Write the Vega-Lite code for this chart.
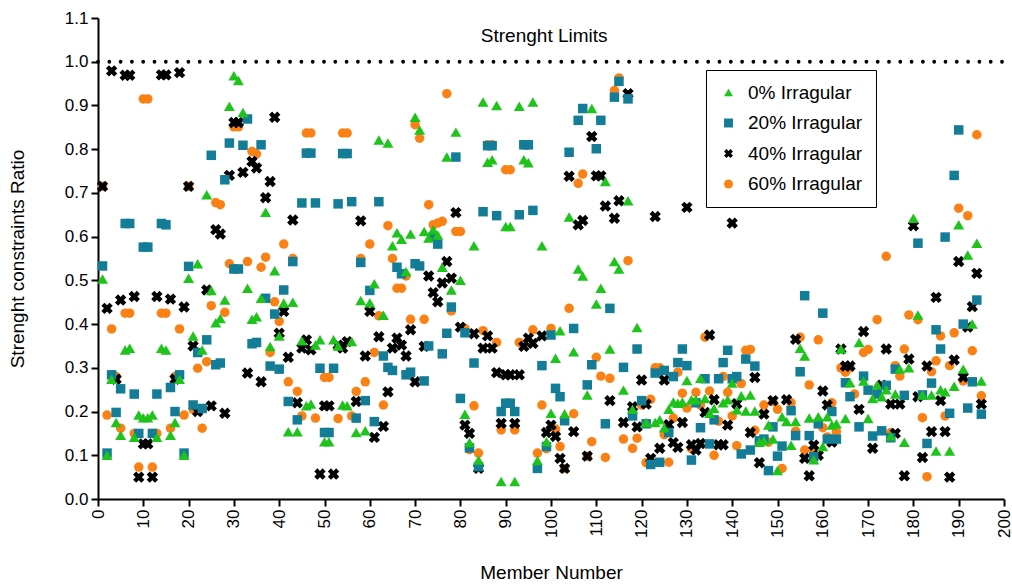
{
  "$schema": "https://vega.github.io/schema/vega-lite/v6.json",
  "width": 906,
  "height": 481,
  "autosize": {"type": "none"},
  "padding": {"left": 98, "top": 18, "right": 8, "bottom": 85},
  "background": "white",
  "config": {
    "font": "Liberation Sans",
    "view": {"stroke": null},
    "axis": {
      "domainColor": "#000", "domainWidth": 2,
      "tickColor": "#000", "tickWidth": 2, "tickSize": 7,
      "labelColor": "#000", "labelFontSize": 17, "labelFont": "Liberation Sans",
      "titleColor": "#000", "titleFontSize": 19, "titleFontWeight": "normal", "titleFont": "Liberation Sans",
      "grid": false
    }
  },
  "datasets": {
    "irr0": [
      {"m":1,"r":0.503},{"m":2,"r":0.10},{"m":3,"r":0.274},{"m":4,"r":0.175},{"m":5,"r":0.146},{"m":6,"r":0.341},{"m":7,"r":0.345},{"m":8,"r":0.141},{"m":9,"r":0.192},{"m":10,"r":0.186},
      {"m":11,"r":0.186},{"m":12,"r":0.192},{"m":13,"r":0.141},{"m":14,"r":0.345},{"m":15,"r":0.341},{"m":16,"r":0.146},{"m":17,"r":0.175},{"m":18,"r":0.274},{"m":19,"r":0.10},{"m":20,"r":0.505},
      {"m":21,"r":0.373},{"m":22,"r":0.538},{"m":23,"r":0.341},{"m":24,"r":0.696},{"m":25,"r":0.477},{"m":26,"r":0.403},{"m":27,"r":0.413},{"m":28,"r":0.455},{"m":29,"r":0.898},{"m":30,"r":0.968},
      {"m":31,"r":0.957},{"m":32,"r":0.884},{"m":33,"r":0.482},{"m":34,"r":0.411},{"m":35,"r":0.417},{"m":36,"r":0.459},{"m":37,"r":0.656},{"m":38,"r":0.349},{"m":39,"r":0.522},{"m":40,"r":0.373},
      {"m":41,"r":0.448},{"m":42,"r":0.154},{"m":43,"r":0.45},{"m":44,"r":0.154},{"m":45,"r":0.362},{"m":46,"r":0.213},{"m":47,"r":0.217},{"m":48,"r":0.352},{"m":49,"r":0.364},{"m":50,"r":0.131},
      {"m":51,"r":0.131},{"m":52,"r":0.364},{"m":53,"r":0.35},{"m":54,"r":0.215},{"m":55,"r":0.213},{"m":56,"r":0.36},{"m":57,"r":0.152},{"m":58,"r":0.454},{"m":59,"r":0.156},{"m":60,"r":0.449},
      {"m":61,"r":0.492},{"m":62,"r":0.821},{"m":63,"r":0.42},{"m":64,"r":0.814},{"m":65,"r":0.579},{"m":66,"r":0.609},{"m":67,"r":0.594},{"m":68,"r":0.52},{"m":69,"r":0.606},{"m":70,"r":0.873},
      {"m":71,"r":0.844},{"m":72,"r":0.612},{"m":73,"r":0.597},{"m":74,"r":0.616},{"m":75,"r":0.604},{"m":76,"r":0.53},{"m":77,"r":0.782},{"m":78,"r":0.478},{"m":79,"r":0.839},{"m":80,"r":0.5},
      {"m":81,"r":0.194},{"m":82,"r":0.129},{"m":83,"r":0.579},{"m":84,"r":0.089},{"m":85,"r":0.908},{"m":86,"r":0.77},{"m":87,"r":0.776},{"m":88,"r":0.9},{"m":89,"r":0.04},{"m":90,"r":0.623},
      {"m":91,"r":0.623},{"m":92,"r":0.04},{"m":93,"r":0.898},{"m":94,"r":0.776},{"m":95,"r":0.769},{"m":96,"r":0.908},{"m":97,"r":0.088},{"m":98,"r":0.579},{"m":99,"r":0.131},{"m":100,"r":0.196},
      {"m":101,"r":0.322},{"m":102,"r":0.385},{"m":103,"r":0.195},{"m":104,"r":0.645},{"m":105,"r":0.337},{"m":106,"r":0.526},{"m":107,"r":0.51},{"m":108,"r":0.238},{"m":109,"r":0.893},{"m":110,"r":0.446},
      {"m":111,"r":0.482},{"m":112,"r":0.726},{"m":113,"r":0.343},{"m":114,"r":0.543},{"m":115,"r":0.526},{"m":116,"r":0.249},{"m":117,"r":0.682},{"m":118,"r":0.205},{"m":119,"r":0.392},{"m":121,"r":0.175},
      {"m":123,"r":0.175},{"m":124,"r":0.181},{"m":125,"r":0.163},{"m":126,"r":0.205},{"m":127,"r":0.222},{"m":128,"r":0.219},{"m":129,"r":0.222},{"m":130,"r":0.271},{"m":131,"r":0.227},{"m":132,"r":0.227},
      {"m":133,"r":0.276},{"m":134,"r":0.23},{"m":135,"r":0.196},{"m":136,"r":0.207},{"m":138,"r":0.22},{"m":139,"r":0.227},{"m":140,"r":0.265},{"m":141,"r":0.204},{"m":142,"r":0.236},{"m":143,"r":0.201},
      {"m":144,"r":0.238},{"m":145,"r":0.201},{"m":146,"r":0.13},{"m":147,"r":0.133},{"m":148,"r":0.169},{"m":149,"r":0.137},{"m":150,"r":0.065},{"m":151,"r":0.188},{"m":152,"r":0.177},{"m":153,"r":0.123},
      {"m":154,"r":0.177},{"m":155,"r":0.345},{"m":156,"r":0.327},{"m":157,"r":0.185},{"m":158,"r":0.09},{"m":159,"r":0.188},{"m":160,"r":0.12},{"m":161,"r":0.188},{"m":162,"r":0.169},{"m":163,"r":0.172},
      {"m":164,"r":0.343},{"m":165,"r":0.184},{"m":166,"r":0.266},{"m":168,"r":0.358},{"m":169,"r":0.27},{"m":170,"r":0.184},{"m":171,"r":0.23},{"m":172,"r":0.261},{"m":173,"r":0.234},{"m":174,"r":0.25},
      {"m":175,"r":0.144},{"m":176,"r":0.24},{"m":177,"r":0.297},{"m":178,"r":0.13},{"m":179,"r":0.3},{"m":180,"r":0.642},{"m":181,"r":0.421},{"m":182,"r":0.238},{"m":184,"r":0.238},{"m":185,"r":0.11},
      {"m":186,"r":0.25},{"m":187,"r":0.245},{"m":188,"r":0.11},{"m":189,"r":0.258},{"m":190,"r":0.627},{"m":191,"r":0.297},{"m":192,"r":0.558},{"m":193,"r":0.4},{"m":194,"r":0.585},{"m":195,"r":0.27}
    ],
    "irr20": [
      {"m":1,"r":0.533},{"m":2,"r":0.105},{"m":3,"r":0.284},{"m":4,"r":0.198},{"m":5,"r":0.252},{"m":6,"r":0.63},{"m":7,"r":0.63},{"m":8,"r":0.24},{"m":9,"r":0.15},{"m":10,"r":0.576},
      {"m":11,"r":0.576},{"m":12,"r":0.15},{"m":13,"r":0.24},{"m":14,"r":0.63},{"m":15,"r":0.627},{"m":16,"r":0.255},{"m":17,"r":0.2},{"m":18,"r":0.284},{"m":19,"r":0.105},{"m":20,"r":0.532},
      {"m":21,"r":0.215},{"m":22,"r":0.335},{"m":23,"r":0.207},{"m":24,"r":0.364},{"m":25,"r":0.786},{"m":26,"r":0.307},{"m":27,"r":0.311},{"m":28,"r":0.73},{"m":29,"r":0.814},{"m":30,"r":0.526},
      {"m":31,"r":0.526},{"m":32,"r":0.809},{"m":33,"r":0.869},{"m":34,"r":0.355},{"m":35,"r":0.358},{"m":36,"r":0.81},{"m":37,"r":0.459},{"m":38,"r":0.304},{"m":39,"r":0.423},{"m":40,"r":0.297},
      {"m":41,"r":0.478},{"m":42,"r":0.223},{"m":43,"r":0.543},{"m":44,"r":0.181},{"m":45,"r":0.677},{"m":46,"r":0.791},{"m":47,"r":0.791},{"m":48,"r":0.677},{"m":49,"r":0.299},{"m":50,"r":0.152},
      {"m":51,"r":0.152},{"m":52,"r":0.299},{"m":53,"r":0.675},{"m":54,"r":0.79},{"m":55,"r":0.79},{"m":56,"r":0.68},{"m":57,"r":0.185},{"m":58,"r":0.541},{"m":59,"r":0.225},{"m":60,"r":0.477},
      {"m":61,"r":0.177},{"m":62,"r":0.68},{"m":63,"r":0.327},{"m":64,"r":0.301},{"m":65,"r":0.294},{"m":66,"r":0.53},{"m":67,"r":0.515},{"m":68,"r":0.284},{"m":69,"r":0.29},{"m":70,"r":0.538},
      {"m":71,"r":0.533},{"m":72,"r":0.27},{"m":73,"r":0.35},{"m":74,"r":0.6},{"m":75,"r":0.583},{"m":76,"r":0.332},{"m":77,"r":0.379},{"m":78,"r":0.439},{"m":79,"r":0.782},{"m":80,"r":0.23},
      {"m":81,"r":0.38},{"m":82,"r":0.117},{"m":83,"r":0.311},{"m":84,"r":0.074},{"m":85,"r":0.657},{"m":86,"r":0.808},{"m":87,"r":0.808},{"m":88,"r":0.648},{"m":89,"r":0.2},{"m":90,"r":0.219},
      {"m":91,"r":0.219},{"m":92,"r":0.2},{"m":93,"r":0.65},{"m":94,"r":0.81},{"m":95,"r":0.81},{"m":96,"r":0.66},{"m":97,"r":0.07},{"m":98,"r":0.305},{"m":99,"r":0.12},{"m":100,"r":0.375},
      {"m":101,"r":0.253},{"m":102,"r":0.234},{"m":103,"r":0.179},{"m":104,"r":0.793},{"m":105,"r":0.39},{"m":106,"r":0.866},{"m":107,"r":0.893},{"m":108,"r":0.261},{"m":109,"r":0.307},{"m":110,"r":0.801},
      {"m":111,"r":0.866},{"m":112,"r":0.172},{"m":113,"r":0.436},{"m":114,"r":0.919},{"m":115,"r":0.955},{"m":116,"r":0.301},{"m":117,"r":0.915},{"m":118,"r":0.19},{"m":119,"r":0.343},{"m":120,"r":0.225},
      {"m":121,"r":0.172},{"m":122,"r":0.079},{"m":123,"r":0.288},{"m":124,"r":0.084},{"m":125,"r":0.294},{"m":126,"r":0.152},{"m":127,"r":0.28},{"m":128,"r":0.312},{"m":129,"r":0.343},{"m":130,"r":0.305},
      {"m":131,"r":0.089},{"m":132,"r":0.22},{"m":133,"r":0.163},{"m":134,"r":0.275},{"m":135,"r":0.126},{"m":136,"r":0.181},{"m":137,"r":0.275},{"m":138,"r":0.312},{"m":139,"r":0.34},{"m":140,"r":0.275},
      {"m":141,"r":0.28},{"m":142,"r":0.103},{"m":143,"r":0.32},{"m":144,"r":0.112},{"m":145,"r":0.304},{"m":146,"r":0.133},{"m":147,"r":0.137},{"m":148,"r":0.065},{"m":149,"r":0.165},{"m":150,"r":0.098},
      {"m":151,"r":0.121},{"m":153,"r":0.202},{"m":154,"r":0.145},{"m":155,"r":0.291},{"m":156,"r":0.465},{"m":157,"r":0.145},{"m":158,"r":0.097},{"m":159,"r":0.172},{"m":160,"r":0.425},{"m":161,"r":0.137},
      {"m":162,"r":0.2},{"m":163,"r":0.137},{"m":165,"r":0.266},{"m":166,"r":0.234},{"m":168,"r":0.165},{"m":169,"r":0.281},{"m":170,"r":0.249},{"m":171,"r":0.144},{"m":172,"r":0.24},{"m":173,"r":0.156},
      {"m":174,"r":0.26},{"m":175,"r":0.14},{"m":176,"r":0.297},{"m":178,"r":0.237},{"m":181,"r":0.585},{"m":182,"r":0.238},{"m":183,"r":0.127},{"m":184,"r":0.265},{"m":185,"r":0.387},{"m":186,"r":0.343},
      {"m":187,"r":0.599},{"m":188,"r":0.196},{"m":189,"r":0.74},{"m":190,"r":0.844},{"m":191,"r":0.4},{"m":192,"r":0.208},{"m":193,"r":0.268},{"m":194,"r":0.455},{"m":195,"r":0.194}
    ],
    "irr40": [
      {"m":1,"r":0.715},{"m":2,"r":0.436},{"m":3,"r":0.979},{"m":4,"r":0.274},{"m":5,"r":0.455},{"m":6,"r":0.969},{"m":7,"r":0.969},{"m":8,"r":0.463},{"m":9,"r":0.05},{"m":10,"r":0.126},
      {"m":11,"r":0.126},{"m":12,"r":0.05},{"m":13,"r":0.463},{"m":14,"r":0.97},{"m":15,"r":0.97},{"m":16,"r":0.457},{"m":17,"r":0.274},{"m":18,"r":0.975},{"m":19,"r":0.439},{"m":20,"r":0.715},
      {"m":21,"r":0.35},{"m":22,"r":0.2},{"m":24,"r":0.478},{"m":25,"r":0.213},{"m":26,"r":0.616},{"m":27,"r":0.606},{"m":28,"r":0.196},{"m":29,"r":0.74},{"m":30,"r":0.861},{"m":31,"r":0.861},
      {"m":32,"r":0.747},{"m":33,"r":0.288},{"m":34,"r":0.772},{"m":35,"r":0.757},{"m":36,"r":0.268},{"m":37,"r":0.689},{"m":38,"r":0.726},{"m":39,"r":0.873},{"m":40,"r":0.379},{"m":41,"r":0.429},
      {"m":42,"r":0.324},{"m":43,"r":0.638},{"m":44,"r":0.22},{"m":45,"r":0.345},{"m":46,"r":0.364},{"m":47,"r":0.341},{"m":49,"r":0.057},{"m":50,"r":0.213},{"m":51,"r":0.213},{"m":52,"r":0.057},
      {"m":53,"r":0.352},{"m":54,"r":0.345},{"m":55,"r":0.36},{"m":57,"r":0.223},{"m":58,"r":0.636},{"m":59,"r":0.327},{"m":60,"r":0.429},{"m":61,"r":0.141},{"m":62,"r":0.371},{"m":63,"r":0.166},
      {"m":64,"r":0.245},{"m":65,"r":0.345},{"m":66,"r":0.368},{"m":67,"r":0.352},{"m":68,"r":0.327},{"m":69,"r":0.387},{"m":70,"r":0.268},{"m":72,"r":0.349},{"m":73,"r":0.51},{"m":74,"r":0.472},
      {"m":75,"r":0.451},{"m":76,"r":0.494},{"m":77,"r":0.543},{"m":78,"r":0.505},{"m":79,"r":0.655},{"m":80,"r":0.393},{"m":81,"r":0.169},{"m":82,"r":0.15},{"m":83,"r":0.378},{"m":84,"r":0.07},
      {"m":85,"r":0.345},{"m":86,"r":0.373},{"m":87,"r":0.345},{"m":88,"r":0.289},{"m":89,"r":0.173},{"m":90,"r":0.284},{"m":91,"r":0.284},{"m":92,"r":0.173},{"m":93,"r":0.284},{"m":94,"r":0.349},
      {"m":95,"r":0.368},{"m":96,"r":0.356},{"m":98,"r":0.373},{"m":99,"r":0.152},{"m":100,"r":0.169},{"m":101,"r":0.143},{"m":102,"r":0.093},{"m":103,"r":0.07},{"m":104,"r":0.738},{"m":105,"r":0.154},
      {"m":106,"r":0.627},{"m":107,"r":0.637},{"m":108,"r":0.098},{"m":109,"r":0.829},{"m":110,"r":0.739},{"m":111,"r":0.739},{"m":112,"r":0.67},{"m":113,"r":0.225},{"m":114,"r":0.642},{"m":115,"r":0.682},
      {"m":116,"r":0.175},{"m":117,"r":0.927},{"m":118,"r":0.211},{"m":119,"r":0.165},{"m":120,"r":0.272},{"m":121,"r":0.217},{"m":122,"r":0.093},{"m":123,"r":0.646},{"m":124,"r":0.116},{"m":125,"r":0.272},
      {"m":126,"r":0.17},{"m":127,"r":0.129},{"m":128,"r":0.118},{"m":129,"r":0.175},{"m":130,"r":0.667},{"m":131,"r":0.124},{"m":132,"r":0.112},{"m":133,"r":0.127},{"m":134,"r":0.198},{"m":135,"r":0.375},
      {"m":136,"r":0.227},{"m":137,"r":0.124},{"m":138,"r":0.124},{"m":139,"r":0.169},{"m":140,"r":0.631},{"m":141,"r":0.218},{"m":144,"r":0.152},{"m":145,"r":0.278},{"m":146,"r":0.083},{"m":147,"r":0.194},
      {"m":149,"r":0.225},{"m":152,"r":0.227},{"m":154,"r":0.365},{"m":156,"r":0.093},{"m":157,"r":0.053},{"m":158,"r":0.123},{"m":159,"r":0.1},{"m":160,"r":0.247},{"m":161,"r":0.215},{"m":162,"r":0.13},
      {"m":164,"r":0.343},{"m":165,"r":0.304},{"m":166,"r":0.304},{"m":168,"r":0.205},{"m":169,"r":0.383},{"m":171,"r":0.116},{"m":173,"r":0.26},{"m":174,"r":0.343},{"m":175,"r":0.217},{"m":176,"r":0.15},
      {"m":177,"r":0.217},{"m":178,"r":0.053},{"m":179,"r":0.32},{"m":180,"r":0.625},{"m":181,"r":0.234},{"m":182,"r":0.095},{"m":183,"r":0.304},{"m":184,"r":0.154},{"m":185,"r":0.461},{"m":186,"r":0.225},
      {"m":187,"r":0.154},{"m":188,"r":0.05},{"m":189,"r":0.318},{"m":190,"r":0.543},{"m":191,"r":0.279},{"m":192,"r":0.393},{"m":193,"r":0.44},{"m":194,"r":0.516},{"m":195,"r":0.217}
    ],
    "irr60": [
      {"m":1,"r":0.715},{"m":2,"r":0.192},{"m":3,"r":0.389},{"m":4,"r":0.28},{"m":5,"r":0.162},{"m":6,"r":0.425},{"m":7,"r":0.425},{"m":8,"r":0.15},{"m":9,"r":0.073},{"m":10,"r":0.915},
      {"m":11,"r":0.915},{"m":12,"r":0.073},{"m":13,"r":0.15},{"m":14,"r":0.425},{"m":15,"r":0.425},{"m":16,"r":0.162},{"m":17,"r":0.28},{"m":18,"r":0.389},{"m":19,"r":0.192},{"m":20,"r":0.715},
      {"m":21,"r":0.205},{"m":22,"r":0.299},{"m":23,"r":0.162},{"m":24,"r":0.314},{"m":25,"r":0.442},{"m":26,"r":0.678},{"m":27,"r":0.673},{"m":28,"r":0.427},{"m":29,"r":0.538},{"m":30,"r":0.851},
      {"m":31,"r":0.851},{"m":33,"r":0.543},{"m":34,"r":0.795},{"m":35,"r":0.789},{"m":36,"r":0.53},{"m":37,"r":0.553},{"m":38,"r":0.335},{"m":39,"r":0.451},{"m":40,"r":0.406},{"m":41,"r":0.583},
      {"m":42,"r":0.268},{"m":43,"r":0.55},{"m":44,"r":0.246},{"m":45,"r":0.19},{"m":46,"r":0.837},{"m":47,"r":0.837},{"m":48,"r":0.185},{"m":50,"r":0.278},{"m":51,"r":0.278},{"m":53,"r":0.184},
      {"m":54,"r":0.837},{"m":55,"r":0.837},{"m":56,"r":0.19},{"m":57,"r":0.246},{"m":58,"r":0.55},{"m":59,"r":0.268},{"m":60,"r":0.583},{"m":61,"r":0.335},{"m":62,"r":0.419},{"m":63,"r":0.215},
      {"m":64,"r":0.625},{"m":65,"r":0.55},{"m":66,"r":0.482},{"m":67,"r":0.482},{"m":68,"r":0.51},{"m":69,"r":0.411},{"m":70,"r":0.856},{"m":71,"r":0.825},{"m":72,"r":0.411},{"m":73,"r":0.673},
      {"m":74,"r":0.627},{"m":75,"r":0.631},{"m":76,"r":0.635},{"m":77,"r":0.927},{"m":78,"r":0.43},{"m":79,"r":0.612},{"m":80,"r":0.612},{"m":81,"r":0.39},{"m":82,"r":0.113},{"m":83,"r":0.213},
      {"m":84,"r":0.105},{"m":85,"r":0.385},{"m":86,"r":0.81},{"m":87,"r":0.81},{"m":88,"r":0.358},{"m":89,"r":0.158},{"m":90,"r":0.753},{"m":91,"r":0.753},{"m":92,"r":0.158},{"m":93,"r":0.358},
      {"m":94,"r":0.81},{"m":95,"r":0.81},{"m":96,"r":0.387},{"m":97,"r":0.105},{"m":98,"r":0.215},{"m":99,"r":0.115},{"m":100,"r":0.39},{"m":101,"r":0.16},{"m":102,"r":0.12},{"m":103,"r":0.07},
      {"m":104,"r":0.436},{"m":105,"r":0.195},{"m":106,"r":0.722},{"m":107,"r":0.743},{"m":108,"r":0.098},{"m":109,"r":0.131},{"m":110,"r":0.324},{"m":111,"r":0.281},{"m":112,"r":0.095},{"m":113,"r":0.276},
      {"m":114,"r":0.934},{"m":115,"r":0.963},{"m":116,"r":0.137},{"m":117,"r":0.545},{"m":118,"r":0.116},{"m":119,"r":0.139},{"m":120,"r":0.215},{"m":121,"r":0.083},{"m":122,"r":0.228},{"m":123,"r":0.3},
      {"m":124,"r":0.3},{"m":125,"r":0.147},{"m":126,"r":0.084},{"m":127,"r":0.185},{"m":128,"r":0.29},{"m":129,"r":0.242},{"m":130,"r":0.208},{"m":131,"r":0.115},{"m":132,"r":0.244},{"m":133,"r":0.215},
      {"m":134,"r":0.37},{"m":135,"r":0.247},{"m":136,"r":0.1},{"m":137,"r":0.178},{"m":138,"r":0.28},{"m":139,"r":0.244},{"m":140,"r":0.19},{"m":141,"r":0.122},{"m":142,"r":0.264},{"m":143,"r":0.34},
      {"m":144,"r":0.342},{"m":145,"r":0.157},{"m":147,"r":0.215},{"m":148,"r":0.13},{"m":149,"r":0.223},{"m":150,"r":0.205},{"m":151,"r":0.07},{"m":153,"r":0.22},{"m":154,"r":0.155},{"m":155,"r":0.37},
      {"m":156,"r":0.112},{"m":157,"r":0.261},{"m":158,"r":0.108},{"m":159,"r":0.364},{"m":160,"r":0.163},{"m":161,"r":0.142},{"m":162,"r":0.22},{"m":163,"r":0.154},{"m":164,"r":0.3},{"m":165,"r":0.29},
      {"m":166,"r":0.3},{"m":167,"r":0.24},{"m":169,"r":0.335},{"m":170,"r":0.342},{"m":172,"r":0.41},{"m":174,"r":0.555},{"m":175,"r":0.152},{"m":176,"r":0.305},{"m":177,"r":0.281},{"m":178,"r":0.343},
      {"m":179,"r":0.421},{"m":181,"r":0.41},{"m":182,"r":0.186},{"m":183,"r":0.051},{"m":184,"r":0.291},{"m":185,"r":0.316},{"m":186,"r":0.373},{"m":187,"r":0.19},{"m":188,"r":0.305},{"m":189,"r":0.38},
      {"m":190,"r":0.665},{"m":191,"r":0.27},{"m":192,"r":0.648},{"m":193,"r":0.339},{"m":194,"r":0.833},{"m":195,"r":0.236}
    ]
  },
  "layer": [
    {
      "data": {"values": [{}]},
      "mark": {"type": "rule", "color": "#000", "strokeWidth": 3.8, "strokeCap": "round", "strokeDash": [0, 11.3]},
      "encoding": {
        "x": {"datum": 0, "type": "quantitative"},
        "x2": {"datum": 200},
        "y": {"datum": 1.0, "type": "quantitative"}
      }
    },
    {
      "data": {"values": [{}]},
      "mark": {"type": "text", "text": "Strenght Limits", "font": "Liberation Sans", "fontSize": 19, "color": "#000", "align": "center", "baseline": "alphabetic"},
      "encoding": {
        "x": {"datum": 98.5, "type": "quantitative"},
        "y": {"datum": 1.046, "type": "quantitative"}
      }
    },
    {
      "data": {"name": "irr60"},
      "mark": {"type": "point", "filled": true, "opacity": 1, "size": 90},
      "encoding": {
        "x": {
          "field": "m", "type": "quantitative",
          "scale": {"domain": [0, 200], "nice": false, "zero": false},
          "axis": {"title": "Member Number", "values": [0,10,20,30,40,50,60,70,80,90,100,110,120,130,140,150,160,170,180,190,200], "labelAngle": -90, "labelPadding": 3, "titlePadding": 26}
        },
        "y": {
          "field": "r", "type": "quantitative",
          "scale": {"domain": [0, 1.1], "nice": false},
          "axis": {"title": "Strenght constraints Ratio", "values": [0,0.1,0.2,0.3,0.4,0.5,0.6,0.7,0.8,0.9,1.0,1.1], "format": ".1f", "labelPadding": 3, "titlePadding": 37}
        },
        "color": {
          "datum": "60% Irragular",
          "scale": {"domain": ["0% Irragular", "20% Irragular", "40% Irragular", "60% Irragular"], "range": ["#1ec31b", "#137d97", "#000000", "#fb8114"]},
          "legend": {"orient": "none", "legendX": 608, "legendY": 52, "title": null, "labelFontSize": 19, "labelFont": "Liberation Sans", "labelColor": "#000", "symbolSize": 80, "symbolStrokeWidth": 0, "strokeColor": "#000", "fillColor": "white", "padding": 13, "rowPadding": 10.5, "labelOffset": 10}
        },
        "shape": {
          "datum": "60% Irragular",
          "scale": {"domain": ["0% Irragular", "20% Irragular", "40% Irragular", "60% Irragular"], "range": ["triangle-up", "square", "M-1,-0.45L-0.45,-1L0,-0.55L0.45,-1L1,-0.45L0.55,0L1,0.45L0.45,1L0,0.55L-0.45,1L-1,0.45L-0.55,0Z", "circle"]},
          "legend": {"orient": "none", "legendX": 608, "legendY": 52, "title": null, "labelFontSize": 19, "labelFont": "Liberation Sans", "labelColor": "#000", "symbolSize": 80, "symbolStrokeWidth": 0, "strokeColor": "#000", "fillColor": "white", "padding": 13, "rowPadding": 10.5, "labelOffset": 10}
        }
      }
    },
    {
      "data": {"name": "irr40"},
      "mark": {"type": "point", "filled": true, "opacity": 1, "size": 130},
      "encoding": {
        "x": {"field": "m", "type": "quantitative"},
        "y": {"field": "r", "type": "quantitative"},
        "color": {"datum": "40% Irragular"},
        "shape": {"datum": "40% Irragular"}
      }
    },
    {
      "data": {"name": "irr20"},
      "mark": {"type": "point", "filled": true, "opacity": 1, "size": 90},
      "encoding": {
        "x": {"field": "m", "type": "quantitative"},
        "y": {"field": "r", "type": "quantitative"},
        "color": {"datum": "20% Irragular"},
        "shape": {"datum": "20% Irragular"}
      }
    },
    {
      "data": {"name": "irr0"},
      "mark": {"type": "point", "filled": true, "opacity": 1, "size": 120},
      "encoding": {
        "x": {"field": "m", "type": "quantitative"},
        "y": {"field": "r", "type": "quantitative"},
        "color": {"datum": "0% Irragular"},
        "shape": {"datum": "0% Irragular"}
      }
    }
  ]
}
